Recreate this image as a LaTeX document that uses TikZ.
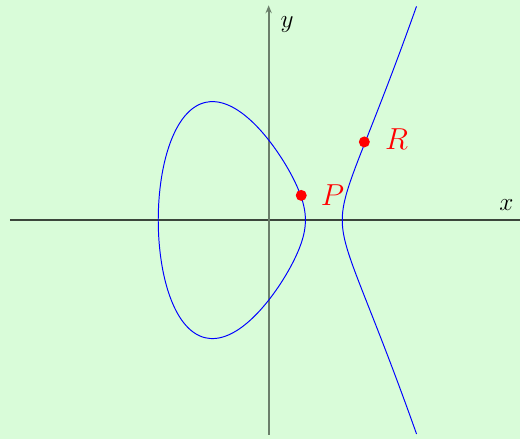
\documentclass[tikz,border=0pt]{standalone}
\usepackage{xcolor}
\usepackage{tikz}
\usetikzlibrary{arrows.meta,positioning}
\definecolor{mint}{HTML}{D9FCD9}
\definecolor{axisdark}{HTML}{3C463C}
\definecolor{axislight}{HTML}{6B7F6B}

\begin{document}
\begin{tikzpicture}[
  x=0.736cm,y=0.654cm,
  ax/.style={line width=0.7pt,draw=axisdark},
  curve/.style={draw=blue,line width=0.55pt},
  dot/.style={circle,fill=red,inner sep=0pt,minimum size=2.2mm},
  lbl/.style={text=red,font=\fontsize{16}{19}\selectfont,inner sep=0pt},
  axlbl/.style={font=\Large,anchor=base,inner sep=0pt}
]
\fill[mint] (-7.30,-6.70) rectangle (6.83,6.73);
\useasboundingbox (-7.30,-6.70) rectangle (6.83,6.73);
\coordinate (xl) at (-7.03,0);
\coordinate (xr) at (6.83,0);
\coordinate (yb) at (0,-6.57);
\coordinate (yt) at (0,6.57);
\draw[ax] (xl) -- (xr);
\draw[ax,line width=1pt,draw=axislight,-{Stealth[length=4.5pt,width=3.5pt]}] (yb) -- (yt);
\node[axlbl] (xlab) at (6.46,0.28) {$x$};
\node[axlbl] (ylab) at (0.50,5.90) {$y$};
% the curve y^2 = x^3 - 7x + 6
\draw[curve] plot[domain=0:360,samples=100,smooth] ({-1-2*cos(\x)},{2*sin(\x)*sqrt(3+2*cos(\x))}) -- cycle;
\draw[curve] plot[domain=-1.421:1.421,samples=60,smooth] ({2+\x*\x},{\x*sqrt((1+\x*\x)*(5+\x*\x))});
\node[dot] (P) at (0.886,0.755) {};
\node[dot] (R) at (2.60,2.39) {};
\node[lbl,right=0.27cm of P] (labP) {$P$};
\node[lbl,right=0.29cm of R,yshift=1.5pt] (labR) {$R$};
\end{tikzpicture}
\end{document}
